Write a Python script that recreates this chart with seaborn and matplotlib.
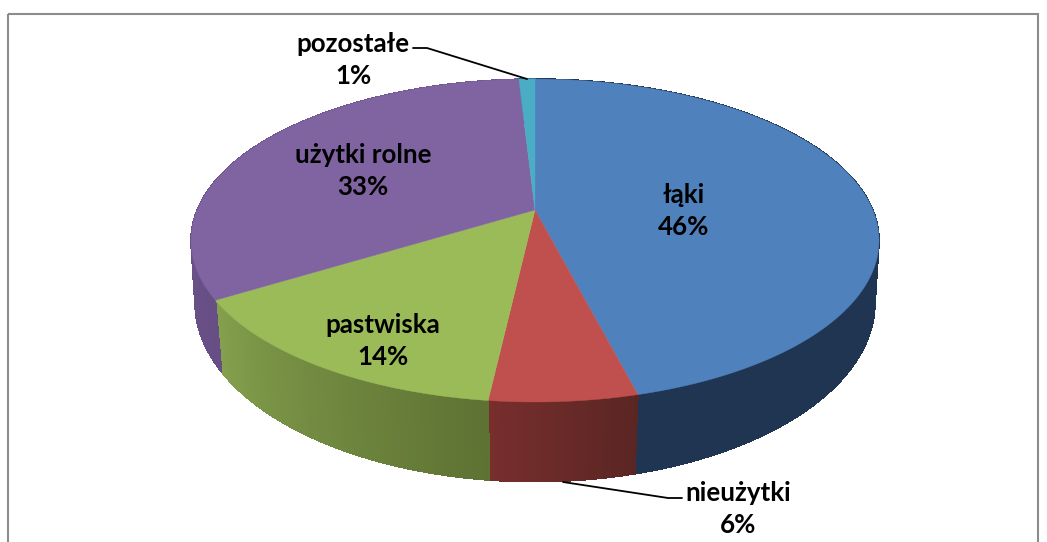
import numpy as np
import seaborn as sns
import matplotlib.pyplot as plt
from matplotlib.collections import PolyCollection
from matplotlib.patches import Rectangle

names = ["łąki", "nieużytki", "pastwiska", "użytki rolne", "pozostałe"]
shares = [46.0, 5.8, 14.45, 32.85, 0.9]

top_colors = ["#4F81BD", "#C0504D", "#9BBB59", "#8064A2", "#4BACC6"]
# wall shading, start and end of each slice going clockwise
wall_colors = [("#1F3552", "#1F3552"), ("#5A2623", "#772E2D"), ("#5E7233", "#84A04D"),
               ("#674F85", "#735A92"), ("#2F6F80", "#2F6F80")]

label_pos = [(684, 211), (738, 509), (383, 341), (363, 171), (353, 60)]
leaders = [None, [(563, 482), (668, 498), (682, 498)], None, None, [(413, 48), (427, 48), (527, 79)]]

sns.set_theme(style="white")
plt.rcParams["font.family"] = ["Lato", "DejaVu Sans"]


def project(theta, cy, a, b, k):
    # theta clockwise from the top of the pie, perspective on the disc
    x, y = np.sin(theta), -np.cos(theta)
    d = 1 + k * y
    return 535 + a * x / d, cy + b * y / d


def top_disc(theta):
    return project(theta, 210, 337.8, 155.7, -0.189)


def bottom_disc(theta):
    return project(theta, 272, 335, 174, -0.17)


f, ax = plt.subplots(figsize=(10.47, 5.42), dpi=100)
f.subplots_adjust(0, 0, 1, 1)
ax.set_xlim(0, 1047)
ax.set_ylim(542, 0)
ax.axis("off")

ax.add_patch(Rectangle((8, 14), 1030, 600, fill=False, edgecolor="#8C8C8C", linewidth=1.5))

edges = np.cumsum([0] + shares) / sum(shares) * 2 * np.pi

# side walls first, the top disc covers whatever is at the back
for i in range(len(shares)):
    n = max(int(shares[i] * 6), 8)
    th = np.linspace(edges[i], edges[i + 1], n + 1)
    tx, ty = top_disc(th)
    bx, by = bottom_disc(th)
    quads = [[(tx[j], ty[j]), (tx[j + 1], ty[j + 1]), (bx[j + 1], by[j + 1]), (bx[j], by[j])] for j in range(n)]
    pal = sns.blend_palette(wall_colors[i], n)
    ax.add_collection(PolyCollection(quads, facecolors=pal, edgecolors="face", linewidths=0.5, antialiaseds=False))

for i in range(len(shares)):
    th = np.linspace(edges[i], edges[i + 1], 200)
    tx, ty = top_disc(th)
    ax.fill(np.r_[535, tx], np.r_[210, ty], color=top_colors[i], linewidth=0.3)

for i, name in enumerate(names):
    x, y = label_pos[i]
    ax.text(x, y, f"{name}\n{round(shares[i])}%", ha="center", va="center", fontsize=18.6, fontweight="bold",
            color="black", linespacing=1.43)
    if leaders[i]:
        ax.plot(*zip(*leaders[i]), color="black", linewidth=1.3)

f.savefig("out.png", dpi=100)
